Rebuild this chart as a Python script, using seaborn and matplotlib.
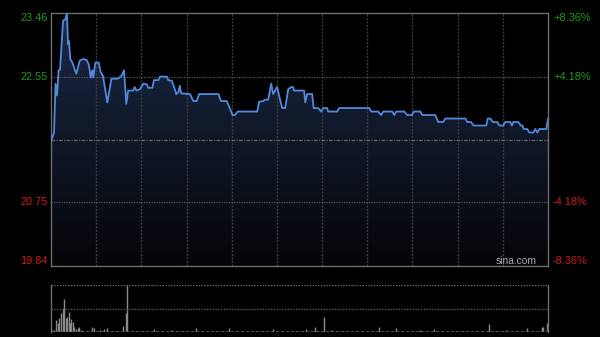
import matplotlib
matplotlib.use("Agg")
import matplotlib.pyplot as plt
import matplotlib.transforms as mtransforms
from matplotlib.colors import LinearSegmentedColormap
import numpy as np
import pandas as pd
import seaborn as sns

# ---------------- data ----------------
minutes = [0, 2, 3, 4, 5, 6, 8, 9.5, 10.6, 11.3, 12, 12.8, 14.2, 16.8, 19.1, 21.3,
           23.5, 25, 26.4, 27.4, 28.1, 29.4, 31.7, 33, 34.5, 37.4, 40.1, 44.5, 46.7,
           48.5, 50, 51.2, 54.5, 55.6, 56.7, 59.1, 61.3, 63.6, 64.6, 67.3, 68.4, 71.3,
           72.4, 76.9, 77.9, 80.2, 81.9, 83.2, 84.6, 85.5, 86.4, 92.3, 94.5, 96.8,
           98.3, 111.2, 112.9, 116.7, 118.9, 120.5, 122.2, 124, 136.9, 138.2, 140.9,
           142.2, 144.2, 146.2, 147.5, 150.1, 153.5, 155.5, 157.5, 159.5, 160.8,
           161.4, 168.1, 168.8, 170.1, 173.4, 174.4, 177.4, 179.4, 180.7, 183.4, 184,
           190, 191.3, 211.3, 212.6, 217.2, 219.2, 220.6, 226.6, 227.9, 229.2, 234.5,
           236.5, 239.8, 240.8, 245.2, 246.5, 255.1, 257.1, 260.4, 261.8, 275.1,
           276.4, 279, 280.4, 289, 290, 291.7, 293.3, 296.3, 297.6, 300.3, 301.6, 305,
           306, 307, 310.3, 311.9, 312.9, 313.9, 316.2, 317.6, 320.2, 321.6, 322.9,
           324.2, 328.9, 330]
prices = [21.62, 21.75, 22.45, 22.28, 22.64, 22.65, 23.35, 23.37, 23.46, 23.01, 23.06,
          22.80, 22.75, 22.59, 22.78, 22.80, 22.79, 22.73, 22.54, 22.64, 22.54, 22.75,
          22.75, 22.61, 22.56, 22.18, 22.52, 22.52, 22.56, 22.64, 22.16, 22.35, 22.35,
          22.40, 22.35, 22.37, 22.45, 22.44, 22.39, 22.39, 22.50, 22.50, 22.55, 22.55,
          22.50, 22.49, 22.39, 22.30, 22.33, 22.42, 22.31, 22.30, 22.20, 22.20, 22.30,
          22.30, 22.20, 22.20, 22.09, 22.00, 22.00, 22.05, 22.05, 22.19, 22.20, 22.22,
          22.22, 22.45, 22.30, 22.40, 22.10, 22.10, 22.37, 22.40, 22.40, 22.35, 22.35,
          22.18, 22.30, 22.30, 22.10, 22.10, 22.05, 22.10, 22.10, 22.05, 22.05, 22.10,
          22.10, 22.05, 22.05, 22.00, 22.05, 22.05, 22.00, 22.05, 22.05, 22.00, 22.00,
          22.05, 22.05, 22.00, 22.00, 21.90, 21.90, 21.95, 21.95, 21.90, 21.90, 21.85,
          21.85, 21.95, 21.95, 21.90, 21.90, 21.85, 21.85, 21.90, 21.90, 21.85, 21.90,
          21.90, 21.85, 21.85, 21.80, 21.80, 21.75, 21.75, 21.80, 21.75, 21.80, 21.80,
          21.95]

vol_minutes = [0, 2, 3.3, 4.5, 5.5, 6.9, 7.8, 8.6, 9.8, 10.6, 11.8, 12.6, 13.5, 14.4,
               15.3, 16.6, 17.7, 18.6, 19.9, 21.5, 23.7, 27, 28.6, 30.4, 32.6, 35.2,
               37.2, 40.3, 43.6, 48, 49.8, 50.5, 68.6, 79.7, 96.1, 118.5, 147.7, 169.4,
               175.6, 181.2, 186, 217.5, 229.2, 245, 254, 291, 302, 316, 325.7, 327,
               329.5]
vol_values = [8.5, 4.9, 26, 19, 29.6, 41.4, 50.7, 69.8, 29.6, 31.7, 43.6, 19, 27.5,
              22.4, 11.8, 6.2, 8.5, 11.8, 4.9, 3.5, 1.4, 11.8, 8.5, 2.8, 4.9, 7, 8.5,
              2.8, 1.4, 13.3, 41.4, 100, 6.2, 4.2, 8.5, 8.5, 6.2, 6.2, 11.8, 33, 4.9,
              10.6, 8.5, 4.9, 7, 17, 4.9, 9.9, 10.6, 10.6, 19]

prev_close = 21.65
price_ticks = [23.46, 22.55, 20.75, 19.84]
price_labels = ["23.46", "22.55", "20.75", "19.84"]
pct_labels = ["+8.36%", "+4.18%", "-4.18%", "-8.36%"]
label_colors = ["#1c9a1c", "#1c9a1c", "#d01818", "#d01818"]
session_minutes = 330

# ---------------- styling ----------------
sns.set_style("dark")
plt.rcParams["font.family"] = ["Liberation Sans", "DejaVu Sans"]

W, H = 600, 337
fig = plt.figure(figsize=(W / 100, H / 100), dpi=100, facecolor="black")

L, R = 51, 548
top, bot = 13, 266
ax = fig.add_axes([L / W, 1 - bot / H, (R - L) / W, (bot - top) / H])
ax.set_facecolor("black")
ymin, ymax = price_ticks[-1], price_ticks[0]
ax.set_xlim(0, session_minutes)
ax.set_ylim(ymin, ymax)

df = pd.DataFrame({"minute": minutes, "price": prices})

# gradient fill under the line
cmap = LinearSegmentedColormap.from_list("g", ["#040507", "#1b2947"])
grad = np.linspace(0, 1, 256).reshape(-1, 1)
im = ax.imshow(grad, extent=[0, session_minutes, ymin, ymax], origin="lower",
               aspect="auto", cmap=cmap, zorder=1, interpolation="bicubic")
poly = ax.fill_between(df["minute"], df["price"], ymin, facecolor="none",
                       edgecolor="none", zorder=1)
im.set_clip_path(poly.get_paths()[0], transform=ax.transData)

# grid
for m in range(30, session_minutes, 30):
    ax.axvline(m, color="#3c3c3c", lw=1.0, ls=(0, (1.5, 1)), zorder=2)
for v in (price_ticks[1], price_ticks[2]):
    ax.axhline(v, color="#565656", lw=0.9, ls=(0, (1, 1)), zorder=2)
ax.axhline(prev_close, color="#646464", lw=0.9, ls=(0, (3, 1, 1, 1)), zorder=2)

sns.lineplot(data=df, x="minute", y="price", ax=ax, color="#5189dc", lw=1.3,
             zorder=3)

ax.set_xticks([])
ax.set_yticks([])
ax.set_xlabel("")
ax.set_ylabel("")
ax.grid(False)
for s in ax.spines.values():
    s.set_visible(True)
    s.set_color("#6c6c6c")
    s.set_linewidth(1.0)

# axis labels
trans_l = mtransforms.blended_transform_factory(fig.transFigure, ax.transData)
for i, (v, lab, pl, c) in enumerate(zip(price_ticks, price_labels, pct_labels, label_colors)):
    va = "center"
    if i == 0:
        va = "top"
    elif i == len(price_ticks) - 1:
        va = "bottom"
    ax.text(48 / W, v, lab, transform=trans_l, ha="right", va=va, color=c,
            fontsize=7.9)
    ax.text(553 / W, v, pl, transform=trans_l, ha="left", va=va, color=c,
            fontsize=7.9)

fig.text(537 / W, 1 - 266 / H, "sina.com", ha="right", va="bottom",
         color="#a8a8a8", fontsize=7.4)

# ---------------- volume panel ----------------
vtop, vbot = 285, 332.3
ax2 = fig.add_axes([L / W, 1 - vbot / H, (R - L) / W, (vbot - vtop) / H])
ax2.set_facecolor("black")
ax2.set_xlim(0, session_minutes)
ax2.set_ylim(0, max(vol_values))
ax2.vlines(vol_minutes, 0, vol_values, color="#8a8a8a", lw=1.0)
ax2.axhline(max(vol_values), color="#6a6a6a", lw=1.0, ls=(0, (1, 1)))
ax2.axhline(max(vol_values) / 2, color="#5a5a5a", lw=1.0, ls=(0, (1, 1)))
ax2.axhline(0, color="#5a5a5a", lw=1.2, ls=(0, (2, 1)))
ax2.set_xticks([])
ax2.set_yticks([])
ax2.grid(False)
ax2.spines["top"].set_visible(False)
ax2.spines["bottom"].set_visible(False)
for k in ("left", "right"):
    ax2.spines[k].set_color("#6c6c6c")
    ax2.spines[k].set_linewidth(1.0)

fig.savefig("out.png", dpi=100, facecolor="black")
